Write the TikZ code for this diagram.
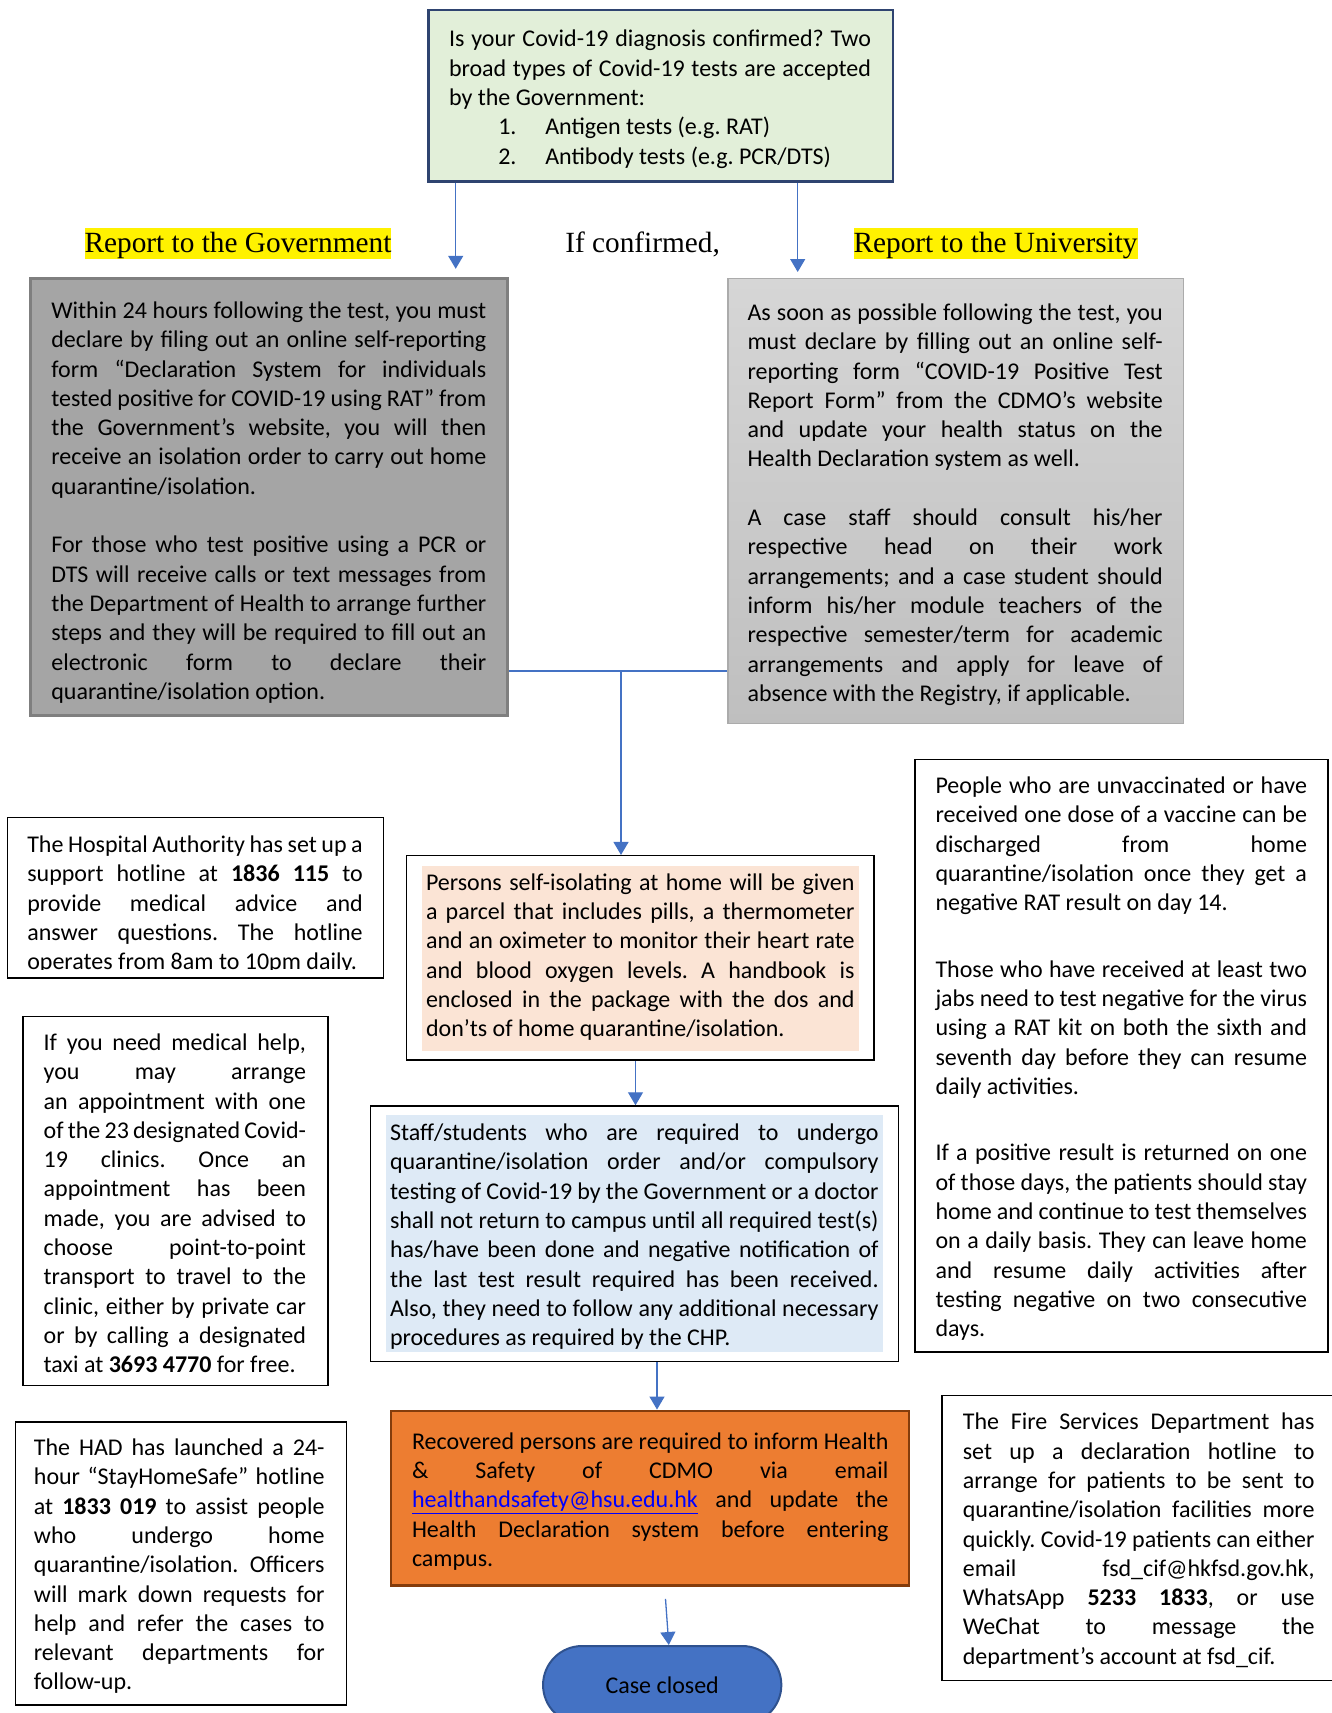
\documentclass[tikz,border=0pt]{standalone}
\usepackage{fontspec}
\setmainfont{Carlito}
\newfontfamily\headfont{Liberation Serif}
\usetikzlibrary{arrows.meta,shapes.misc}

\definecolor{qgreen}{HTML}{E2EFD9}
\definecolor{qnavy}{HTML}{2F4470}
\definecolor{govgray}{HTML}{A5A5A5}
\definecolor{govedge}{HTML}{7F7F7F}
\definecolor{unitop}{HTML}{D6D6D6}
\definecolor{unibot}{HTML}{BFBFBF}
\definecolor{uniedge}{HTML}{ABABAB}
\definecolor{peach}{HTML}{FBE4D5}
\definecolor{paleblue}{HTML}{DEEAF6}
\definecolor{recorange}{HTML}{ED7D31}
\definecolor{recedge}{HTML}{843C0C}
\definecolor{flowblue}{HTML}{4472C4}
\definecolor{closededge}{HTML}{2F528F}
\definecolor{linkblue}{HTML}{0000FF}

\tolerance=10000
\hbadness=10000
\hyphenpenalty=10000
\exhyphenpenalty=10000
\frenchspacing

\tikzset{
  bodyfont/.style={font=\fontsize{24}{29.3}\selectfont},
  txt/.style={bodyfont, align=justify, inner sep=0pt, yshift=-2.5pt},
  plainbox/.style={draw=black, line width=1.5pt, inner sep=0pt},
  heading/.style={font=\headfont\fontsize{29.3}{33}\selectfont, inner sep=0pt, text height=24pt, text depth=7pt},
  flow/.style={draw=flowblue, line width=1.3pt, -{Triangle[width=15pt,length=13pt]}},
  link/.style={draw=flowblue, line width=1.3pt}
}

\begin{document}
\begin{tikzpicture}[x=1pt,y=-1pt]
\useasboundingbox (0,0) rectangle (1331,1713);

\node[draw=qnavy, line width=2.5pt, fill=qgreen, inner sep=0pt, minimum width=464.4pt, minimum height=171.6pt] (q) at (660.6,95.6) {};
\node[txt, text width=422pt] (qtext) at (660,96.7) {Is your Covid-19 diagnosis confirmed? Two\linebreak
broad types of Covid-19 tests are accepted\linebreak
by the Government:\par
\hspace*{49.3pt}\makebox[47pt][l]{1.}Antigen tests (e.g. RAT)\par
\hspace*{49.3pt}\makebox[47pt][l]{2.}Antibody tests (e.g. PCR/DTS)};

\node[heading, fill=yellow] (govlabel) at (238,243.5) {Report to the Government};
\node[heading] (iflabel) at (642.6,243.5) {If confirmed,};
\node[heading, fill=yellow] (unilabel) at (995.6,243.5) {Report to the University};

\node[draw=govedge, line width=3pt, fill=govgray, inner sep=0pt, minimum width=476.4pt, minimum height=436.3pt] (gov) at (268.8,496.9) {};
\node[txt, text width=435pt] (govtext) at (268.85,500) {Within 24 hours following the test, you must\linebreak
declare by filing out an online self-reporting\linebreak
form “Declaration System for individuals\linebreak
tested positive for COVID-19 using RAT” from\linebreak
the Government’s website, you will then\linebreak
receive an isolation order to carry out home\linebreak
quarantine/isolation.\par\vspace{29.3pt}
For those who test positive using a PCR or\linebreak
DTS will receive calls or text messages from\linebreak
the Department of Health to arrange further\linebreak
steps and they will be required to fill out an\linebreak
electronic form to declare their\linebreak
quarantine/isolation option.};

\node[draw=uniedge, line width=1.5pt, top color=unitop, bottom color=unibot, inner sep=0pt, minimum width=455.7pt, minimum height=444.7pt] (uni) at (955.7,501) {};
\node[txt, text width=415.2pt] (unitext) at (955.1,502.1) {As soon as possible following the test, you\linebreak
must declare by filling out an online self-\linebreak
reporting form “COVID-19 Positive Test\linebreak
Report Form” from the CDMO’s website\linebreak
and update your health status on the\linebreak
Health Declaration system as well.\par\vspace{29.3pt}
A case staff should consult his/her\linebreak
respective head on their work\linebreak
arrangements; and a case student should\linebreak
inform his/her module teachers of the\linebreak
respective semester/term for academic\linebreak
arrangements and apply for leave of\linebreak
absence with the Registry, if applicable.};

\node[plainbox, minimum width=376pt, minimum height=160.6pt] (ha) at (195.6,897.7) {};
\begin{scope}
  \clip (ha.north west) rectangle ([yshift=9pt]ha.south east);
  \node[txt, text width=335.5pt] (hatext) at (195.05,902.1) {The Hospital Authority has set up a\linebreak
  support hotline at \textbf{1836 115} to\linebreak
  provide medical advice and\linebreak
  answer questions. The hotline\linebreak
  operates from 8am to 10pm daily.};
\end{scope}

\node[plainbox, minimum width=304.8pt, minimum height=369.4pt] (med) at (175.4,1201) {};
\node[txt, text width=262.3pt] (medtext) at (174.85,1200.8) {If you need medical help,\linebreak
you may arrange\linebreak
an appointment with one\linebreak
of the 23 designated Covid-\linebreak
19 clinics. Once an\linebreak
appointment has been\linebreak
made, you are advised to\linebreak
choose point-to-point\linebreak
transport to travel to the\linebreak
clinic, either by private car\linebreak
or by calling a designated\linebreak
taxi at \textbf{3693 4770} for free.};

\node[plainbox, minimum width=331.1pt, minimum height=283.1pt] (had) at (180.9,1563.3) {};
\node[txt, text width=290.7pt] (hadtext) at (179.25,1563.8) {The HAD has launched a 24-\linebreak
hour “StayHomeSafe” hotline\linebreak
at \textbf{1833 019} to assist people\linebreak
who undergo home\linebreak
quarantine/isolation. Officers\linebreak
will mark down requests for\linebreak
help and refer the cases to\linebreak
relevant departments for\linebreak
follow-up.};

\node[plainbox, minimum width=413.1pt, minimum height=592.3pt] (people) at (1121.3,1055.7) {};
\node[txt, text width=371.5pt] (peopletext) at (1121.25,1056.2) {People who are unvaccinated or have\linebreak
received one dose of a vaccine can be\linebreak
discharged from home\linebreak
quarantine/isolation once they get a\linebreak
negative RAT result on day 14.\par\vspace{37.2pt}
Those who have received at least two\linebreak
jabs need to test negative for the virus\linebreak
using a RAT kit on both the sixth and\linebreak
seventh day before they can resume\linebreak
daily activities.\par\vspace{37.2pt}
If a positive result is returned on one\linebreak
of those days, the patients should stay\linebreak
home and continue to test themselves\linebreak
on a daily basis. They can leave home\linebreak
and resume daily activities after\linebreak
testing negative on two consecutive\linebreak
days.};

\node[plainbox, minimum width=403pt, minimum height=285.2pt] (fire) at (1143.5,1538.1) {};
\node[txt, text width=351.8pt] (firetext) at (1138.7,1538.1) {The Fire Services Department has\linebreak
set up a declaration hotline to\linebreak
arrange for patients to be sent to\linebreak
quarantine/isolation facilities more\linebreak
quickly. Covid-19 patients can either\linebreak
email fsd\_cif@hkfsd.gov.hk,\linebreak
WhatsApp \textbf{5233 1833}, or use\linebreak
WeChat to message the\linebreak
department’s account at fsd\_cif.};

\node[plainbox, minimum width=467.7pt, minimum height=204.3pt] (pers) at (640.35,957.85) {};
\node[fill=peach, inner sep=0pt, minimum width=437.2pt, minimum height=185.5pt] (persfill) at (640.4,958.25) {};
\node[txt, text width=428.6pt] (perstext) at (640.3,954.7) {Persons self-isolating at home will be given\linebreak
a parcel that includes pills, a thermometer\linebreak
and an oximeter to monitor their heart rate\linebreak
and blood oxygen levels. A handbook is\linebreak
enclosed in the package with the dos and\linebreak
don’ts of home quarantine/isolation.};

\node[plainbox, minimum width=527.8pt, minimum height=255.6pt] (staff) at (634.4,1233.8) {};
\node[fill=paleblue, inner sep=0pt, minimum width=497.2pt, minimum height=237.1pt] (stafffill) at (634.4,1233.25) {};
\node[txt, text width=488.6pt] (stafftext) at (634.3,1234.25) {Staff/students who are required to undergo\linebreak
quarantine/isolation order and/or compulsory\linebreak
testing of Covid-19 by the Government or a doctor\linebreak
shall not return to campus until all required test(s)\linebreak
has/have been done and negative notification of\linebreak
the last test result required has been received.\linebreak
Also, they need to follow any additional necessary\linebreak
procedures as required by the CHP.};

\node[draw=recedge, line width=2.5pt, fill=recorange, inner sep=0pt, minimum width=518pt, minimum height=174.8pt] (rec) at (650.2,1498.2) {};
\node[txt, text width=476.5pt] (rectext) at (650.25,1499) {Recovered persons are required to inform Health\linebreak
\& Safety of CDMO via email\linebreak
\textcolor{linkblue}{\underline{healthandsafety@hsu.edu.hk}} and update the\linebreak
Health Declaration system before entering\linebreak
campus.};

\node[rounded rectangle, draw=closededge, line width=2pt, fill=flowblue, bodyfont, inner sep=0pt, minimum width=238.3pt, minimum height=78pt] (closed) at (662.2,1685) {Case closed};

\coordinate (govtip) at (455.7,268.8);
\coordinate (unitip) at (797.7,272);
\coordinate (mid) at (621,671);
\coordinate (ps) at (635.5,0);
\coordinate (sr) at (657,0);
\coordinate (rcstart) at (665.5,1598.8);
\coordinate (rc) at (668.8,0);

\draw[flow] (q.south -| govtip) -- (govtip);
\draw[flow] (q.south -| unitip) -- (unitip);
\draw[link] (gov.east |- mid) -- (uni.west |- mid);
\draw[flow] (mid) -- (pers.north -| mid);
\draw[flow] (pers.south -| ps) -- (staff.north -| ps);
\draw[flow] (staff.south -| sr) -- (rec.north -| sr);
\draw[flow] (rcstart) -- (closed.north -| rc);
\end{tikzpicture}
\end{document}
